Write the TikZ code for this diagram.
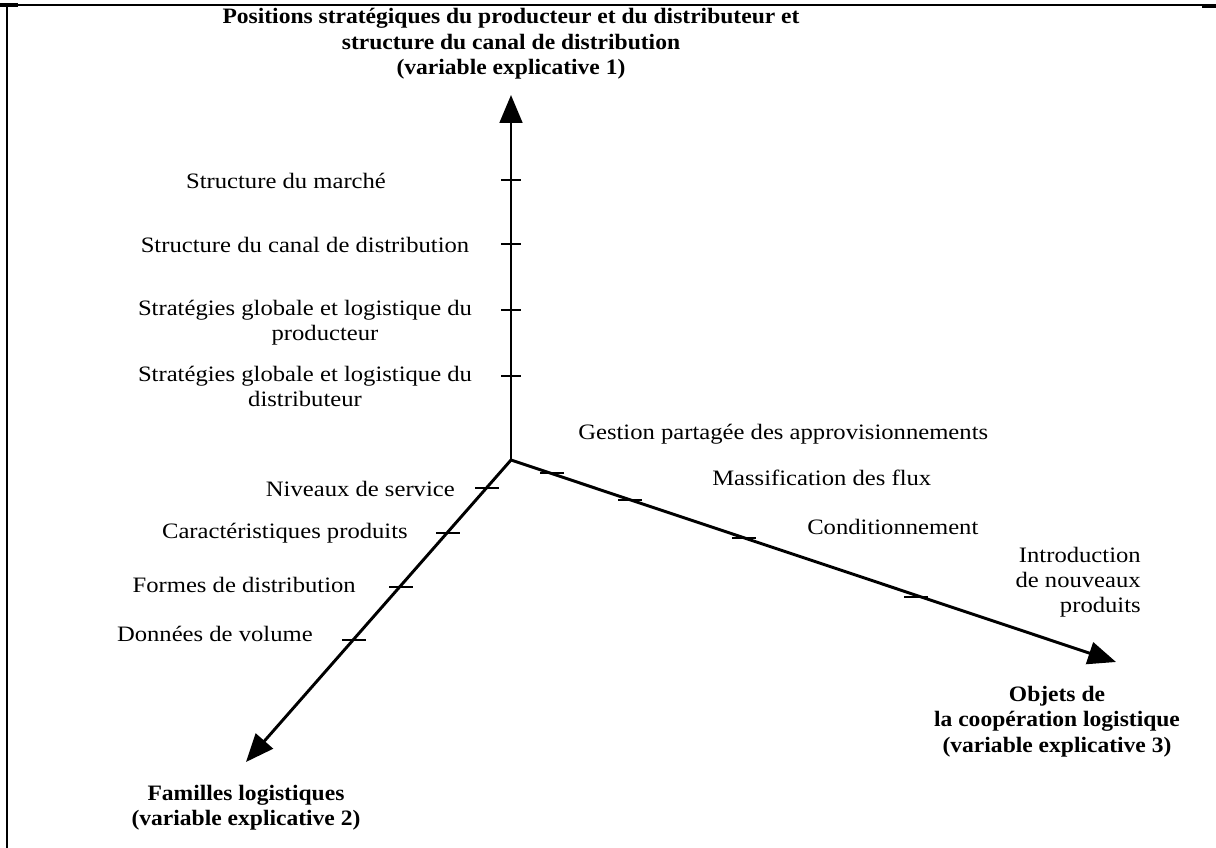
\documentclass[tikz,border=0pt]{standalone}
\usepackage{fontspec}
\setmainfont[FakeStretch=1.12,BoldFeatures={FakeStretch=1.07}]{Liberation Serif}
\usetikzlibrary{arrows.meta}
\begin{document}
\begin{tikzpicture}[x=0.75pt,y=-0.75pt,
  axis/.style={line width=2.2pt,-{Triangle[length=21pt,width=17pt]}},
  tickmark/.style={line width=1.4pt},
  lbl/.style={font=\fontsize{16.5}{18.8}\selectfont,inner sep=0pt},
  ttl/.style={font=\fontsize{16.5}{19}\selectfont\bfseries,inner sep=0pt},
  frameline/.style={line width=1.2pt}]
\useasboundingbox (0,0) rectangle (1216,848);

% frame
\draw[frameline] (0,5) -- (1216,5);
\draw[line width=1.6pt] (7,5) -- (7,848);
\draw[line width=2.4pt] (0,5) -- (18,5);
\draw[line width=2.4pt] (1202,6) -- (1216,6);

% axes
\coordinate (O) at (511,460);
\coordinate (T1) at (511,95);
\coordinate (T2) at (246,762);
\coordinate (T3) at (1116,662);
\draw[axis] (O) -- (T1);
\draw[axis] (O) -- (T2);
\draw[axis] (O) -- (T3);

% ticks, vertical axis
\foreach \n/\y in {a/180,b/244,c/310,d/376}
  \draw[tickmark] (501,\y) coordinate (v\n) -- (521,\y);
% ticks, axis 2
\foreach \n/\x/\y in {a/487/488,b/448/533,c/401/587,d/354/640}
  \draw[tickmark] (\x-12,\y) coordinate (l\n) -- (\x+12,\y);
% ticks, axis 3
\foreach \n/\x/\y in {a/552/473,b/630/500,c/744/538,d/916/597}
  \draw[tickmark] (\x-12,\y) coordinate (r\n) -- (\x+12,\y);

% axis titles
\node[ttl,align=center] (t1) at (511,44)
  {Positions stratégiques du producteur et du distributeur et\\
   structure du canal de distribution\\(variable explicative 1)};
\node[ttl,align=center] (t2) at (246,808)
  {Familles logistiques\\(variable explicative 2)};
\node[ttl,align=center,anchor=north] (t3) at (1057,686)
  {Objets de\\la coopération logistique\\(variable explicative 3)};

% labels, axis 1
\node[lbl] (p1) at (286,181) {Structure du marché};
\node[lbl] (p2) at (305,245) {Structure du canal de distribution};
\node[lbl,align=center,anchor=north] (p3) at (305,300)
  {Stratégies globale et logistique du\\\hspace*{30pt}producteur};
\node[lbl,align=center,anchor=north] (p4) at (305,366)
  {Stratégies globale et logistique du\\distributeur};

% labels, axis 2
\node[lbl,anchor=east] (f1) at (455,489) {Niveaux de service};
\node[lbl,anchor=east] (f2) at (408,533) {Caractéristiques produits};
\node[lbl,anchor=east] (f3) at (356,585) {Formes de distribution};
\node[lbl,anchor=east] (f4) at (313,634) {Données de volume};

% labels, axis 3
\node[lbl,anchor=west] (o1) at (578,434) {Gestion partagée des approvisionnements};
\node[lbl,anchor=west] (o2) at (712,478) {Massification des flux};
\node[lbl,anchor=west] (o3) at (807,527) {Conditionnement};
\node[lbl,align=right,anchor=east] (o4) at (1141,582)
  {Introduction\\de nouveaux\\produits};
\end{tikzpicture}
\end{document}
